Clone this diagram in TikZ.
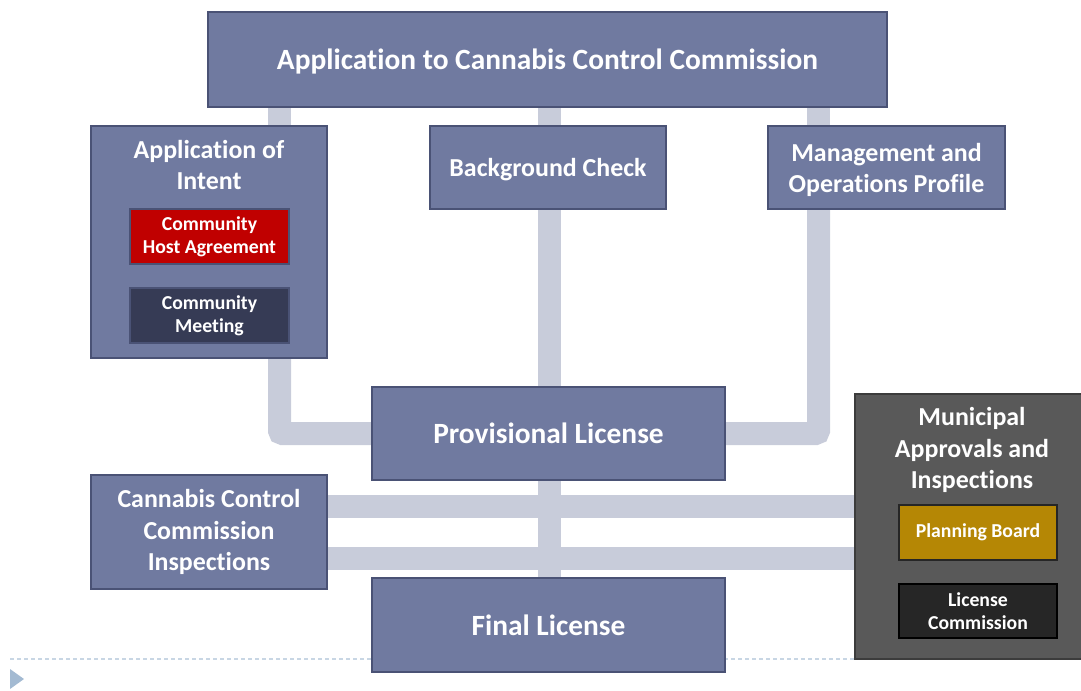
\documentclass[tikz,border=0pt]{standalone}
\usepackage{fontspec}
\setmainfont{Carlito}[Ligatures=CommonOff]
\usetikzlibrary{backgrounds,calc}
\definecolor{boxfill}{RGB}{112,122,160}
\definecolor{boxline}{RGB}{74,82,117}
\definecolor{connc}{RGB}{200,204,218}
\definecolor{redfill}{RGB}{192,0,0}
\definecolor{meetfill}{RGB}{54,59,85}
\definecolor{munifill}{RGB}{89,89,89}
\definecolor{muniline}{RGB}{60,60,60}
\definecolor{planfill}{RGB}{181,135,5}
\definecolor{licfill}{RGB}{38,38,38}
\definecolor{dashc}{RGB}{200,214,228}
\definecolor{triac}{RGB}{163,186,210}
\tikzset{
  box/.style={draw=boxline, fill=boxfill, line width=1.5bp, inner sep=0pt, outer sep=0pt,
    text=white, align=center, font=\fontsize{26}{32}\selectfont\bfseries},
  bigbox/.style={box, font=\fontsize{29.5}{34}\selectfont\bfseries},
  smallbox/.style={box, font=\fontsize{19.8}{23.5}\selectfont\bfseries},
  lbl/.style={text=white, align=center, inner sep=0pt, font=\fontsize{26}{32}\selectfont\bfseries},
  conn/.style={draw=connc, line width=23bp},
}
\begin{document}
\begin{tikzpicture}[x=1bp,y=-1bp]
\useasboundingbox (0,0) rectangle (1081,691);
% footer
\draw[dashc, line width=1.5bp, dash pattern=on 4bp off 3bp] (10,659) -- (1081,659);
\fill[triac] (10,669) -- (24,679) -- (10,689) -- cycle;
% coordinates for connector columns
\coordinate (xL) at (279.5,0);
\coordinate (xM) at (549,0);
\coordinate (xR) at (818.5,0);
% boxes
\node[bigbox, minimum width=679bp, minimum height=95bp] (top) at (547.5,59.5) {};
\node[lbl, font=\fontsize{29.5}{34}\selectfont\bfseries] (topt) at (547.5,62) {Application to Cannabis Control Commission};
\node[box, minimum width=236bp, minimum height=232bp] (aoi) at (209,242) {};
\node[lbl] (aoit) at (209,165) {Application of\\Intent};
\node[smallbox, fill=redfill, draw=boxline, minimum width=159bp, minimum height=55bp] (cha) at (209.5,236.5) {Community\\Host Agreement};
\node[smallbox, fill=meetfill, draw=boxline, minimum width=159bp, minimum height=55bp] (cm) at (209.5,315.5) {Community\\Meeting};
\node[box, minimum width=236bp, minimum height=83bp] (bg) at (548,167.5) {};
\node[lbl] (bgt) at (548,169.5) {Background Check};
\node[box, minimum width=237bp, minimum height=83bp] (mgmt) at (886.5,167.5) {};
\node[lbl] (mgmtt) at (886.5,170) {Management and\\Operations Profile};
\node[bigbox, minimum width=353bp, minimum height=93bp] (prov) at (548.5,433.5) {Provisional License};
\node[box, minimum width=236bp, minimum height=114bp] (ccc) at (209,532) {Cannabis Control\\Commission\\Inspections};
\node[bigbox, minimum width=353bp, minimum height=94bp] (final) at (548.5,625) {Final License};
\node[box, fill=munifill, draw=muniline, minimum width=232bp, minimum height=265bp] (muni) at (971,526.5) {};
\node[lbl] (munit) at (972,450) {Municipal\\Approvals and\\Inspections};
\node[smallbox, fill=planfill, draw=licfill, minimum width=158bp, minimum height=55bp] (plan) at (978,532.5) {Planning Board};
\node[smallbox, fill=licfill, draw=black, minimum width=158bp, minimum height=54bp] (lic) at (978,611) {License\\Commission};
% connectors
\begin{pgfonlayer}{background}
\draw[conn] (top.south -| xL) -- (aoi.north -| xL);
\draw[conn] (top.south -| xM) -- (prov.north -| xM);
\draw[conn] (top.south -| xR) -- (mgmt.north -| xR);
\draw[conn, rounded corners=3bp] (aoi.south -| xL) |- (prov.west);
\draw[conn, rounded corners=3bp] (mgmt.south -| xR) |- (prov.east);
\draw[conn] (prov.south -| xM) -- (final.north -| xM);
\coordinate (y1) at ($(ccc.east)+(0,-26)$);
\coordinate (y2) at ($(ccc.east)+(0,26)$);
\draw[conn] (y1) -- (muni.west |- y1);
\draw[conn] (y2) -- (muni.west |- y2);
\end{pgfonlayer}
\end{tikzpicture}
\end{document}
